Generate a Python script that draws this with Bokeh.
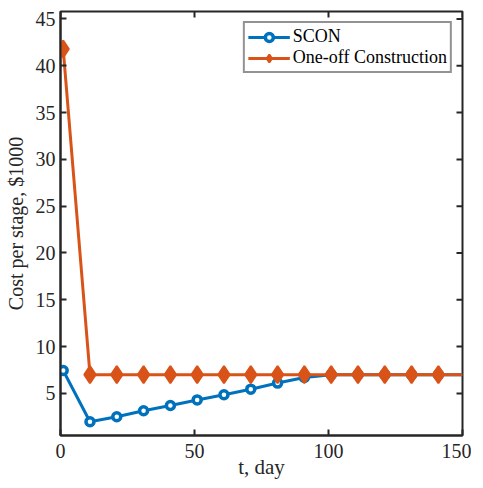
import math
from bokeh.plotting import figure
from bokeh.models import Range1d, FixedTicker, Legend, LegendItem
from bokeh.embed import file_html
from bokeh.resources import INLINE

days = [1, 11, 21, 31, 41, 51, 61, 71, 81, 91, 101, 111, 121, 131, 141, 150]
scon = [7.45, 1.97, 2.5, 3.15, 3.7, 4.3, 4.85, 5.45, 6.1, 6.7, 7.0, 7.0, 7.0, 7.0, 7.0, 7.0]
oneoff = [41.8, 7.0, 7.0, 7.0, 7.0, 7.0, 7.0, 7.0, 7.0, 7.0, 7.0, 7.0, 7.0, 7.0, 7.0, 7.0]
marker_days = days[:-1]
scon_m = scon[:-1]
oneoff_m = oneoff[:-1]
x_ticks = [0, 50, 100, 150]
y_ticks = [5, 10, 15, 20, 25, 30, 35, 40, 45]
x_lim = (0, 150)
y_lim = (0.5, 45.8)

BLUE = "#0072BD"
ORANGE = "#D95319"
AX = "#262626"
FONT = "Liberation Serif"

p = figure(width=471, height=484, output_backend="svg", toolbar_location=None,
           x_range=Range1d(*x_lim), y_range=Range1d(*y_lim),
           min_border_left=60, min_border_top=11, min_border_right=9, min_border_bottom=49,
           frame_width=402, frame_height=424)
p.grid.visible = False
p.outline_line_color = AX
p.outline_line_width = 2

for ax in (p.xaxis[0], p.yaxis[0]):
    ax.axis_line_color = AX
    ax.axis_line_width = 2
    ax.major_tick_in = 6
    ax.major_tick_out = 0
    ax.major_tick_line_color = AX
    ax.major_tick_line_width = 2
    ax.minor_tick_line_color = None
    ax.major_label_text_font = FONT
    ax.major_label_text_font_size = "20px"
    ax.major_label_text_color = AX
    ax.axis_label_text_font = FONT
    ax.axis_label_text_font_style = "normal"
    ax.axis_label_text_color = AX

p.xaxis.ticker = FixedTicker(ticks=x_ticks)
p.yaxis.ticker = FixedTicker(ticks=y_ticks)
p.xaxis.major_label_standoff = 8
p.yaxis.major_label_standoff = 5
p.yaxis.axis_label = "Cost per stage, $1000"
p.yaxis.axis_label_text_font_size = "20px"
p.yaxis.axis_label_standoff = 6
p.xaxis.axis_label = "t, day"
p.xaxis.axis_label_text_font_size = "21px"
p.xaxis.axis_label_standoff = -6

# inner ticks on the top and right edges of the box (half of each dash is clipped by the frame)
p.scatter(x_ticks, [y_lim[1]] * len(x_ticks), marker="dash", angle=math.pi / 2, size=12,
          line_color=AX, line_width=2)
p.scatter([x_lim[1]] * len(y_ticks), y_ticks, marker="dash", size=12, line_color=AX, line_width=2)

l1 = p.line(days, scon, line_color=BLUE, line_width=3)
m1 = p.scatter(marker_days, scon_m, marker="circle", size=8, line_color=BLUE, line_width=3.5, fill_color="white")
l2 = p.line(days, oneoff, line_color=ORANGE, line_width=3)
m2 = p.scatter(marker_days, oneoff_m, marker="diamond", size=17, line_color=ORANGE, line_width=2, fill_color=ORANGE)

legend = Legend(items=[LegendItem(label="SCON", renderers=[l1, m1]),
                       LegendItem(label="One-off Construction", renderers=[l2, m2])],
                location="top_right", margin=10, padding=3, spacing=0,
                label_text_font=FONT, label_text_font_size="18px", label_text_color="black",
                glyph_width=42, glyph_height=20, label_standoff=3, label_height=20,
                border_line_color=AX, border_line_width=2, background_fill_alpha=1)
p.add_layout(legend, "center")

open("out.html", "w").write(file_html(p, INLINE))
